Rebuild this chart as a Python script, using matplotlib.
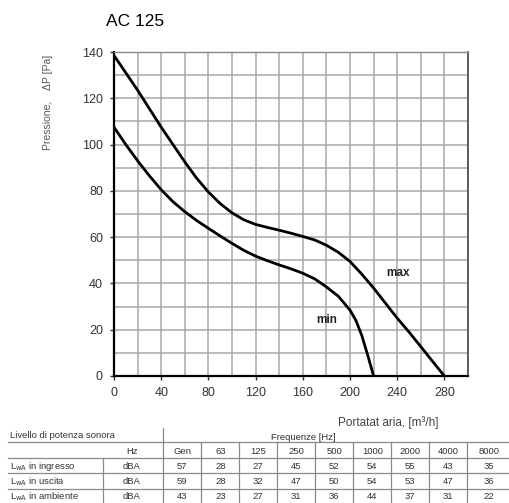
import matplotlib
matplotlib.use("Agg")
import matplotlib.pyplot as plt
from matplotlib.lines import Line2D
import numpy as np

plt.rcParams['font.family'] = ['Liberation Sans', 'DejaVu Sans']

# ---- data ----
flow_max = [0, 10, 20, 30, 40, 50, 60, 70, 80, 90, 100, 110, 120, 130, 140, 150,
            160, 170, 180, 190, 200, 210, 220, 230, 240, 250, 260, 270, 280]
p_max = [138.5, 131, 123.5, 115.5, 107.5, 100, 92.5, 85.5, 79.5, 74.5, 70.5, 67.5,
         65.5, 64.2, 63, 61.7, 60.3, 58.8, 56.5, 53.5, 49.5, 44, 38, 31.5, 25, 19,
         12.7, 6.3, 0]
flow_min = [0, 10, 20, 30, 40, 50, 60, 70, 80, 90, 100, 110, 120, 130, 140, 150,
            160, 170, 180, 190, 200, 205, 210, 215, 220]
p_min = [107.5, 100, 93, 86.5, 80.5, 75.3, 71, 67.2, 63.8, 60.5, 57.3, 54.3, 51.8,
         49.8, 48, 46.3, 44.4, 42, 38.5, 34.5, 28.5, 24, 17.5, 9, 0]

x_ticks = [0, 40, 80, 120, 160, 200, 240, 280]
y_ticks = [0, 20, 40, 60, 80, 100, 120, 140]

freq_labels = ["Gen", "63", "125", "250", "500", "1000", "2000", "4000", "8000"]
row_labels = [r"L$_{\mathrm{wA}}$ in ingresso", r"L$_{\mathrm{wA}}$ in uscita",
              r"L$_{\mathrm{wA}}$ in ambiente"]
row_units = ["dBA", "dBA", "dBA"]
lw_in = [57, 28, 27, 45, 52, 54, 55, 43, 35]
lw_out = [59, 28, 32, 47, 50, 54, 53, 47, 36]
lw_amb = [43, 23, 27, 31, 36, 44, 37, 31, 22]

W, H = 510, 503
fig = plt.figure(figsize=(W / 100, H / 100), dpi=100)


def fx(px):
    return px / W


def fy(py):
    return 1 - py / H


ax = fig.add_axes([fx(114), fy(376), 354 / W, 324 / H])
ax.plot(flow_max, p_max, color='black', lw=2.0, solid_joinstyle='round', zorder=3)
ax.plot(flow_min, p_min, color='black', lw=2.0, solid_joinstyle='round', zorder=3)
ax.set_xlim(0, 300)
ax.set_ylim(0, 140)
ax.set_xticks(x_ticks)
ax.set_yticks(y_ticks)
ax.set_xticks(np.arange(0, 301, 20), minor=True)
ax.set_yticks(np.arange(0, 141, 10), minor=True)
ax.grid(True, which='both', color='#a8a8a8', lw=1.1)
ax.set_axisbelow(True)
ax.tick_params(which='major', length=3, width=1, color='#333333',
               labelsize=9, labelcolor='#333333', pad=5)
ax.tick_params(which='minor', length=0)
for s in ['left', 'bottom']:
    ax.spines[s].set_linewidth(1.6)
    ax.spines[s].set_color('black')
ax.spines['top'].set_color('#888888')
ax.spines['top'].set_linewidth(1.0)
ax.spines['right'].set_color('#444444')
ax.spines['right'].set_linewidth(1.2)

ax.text(240.5, 44.4, "max", fontsize=8.5, fontweight='bold', ha='center',
        va='center', color='#222222')
ax.text(180.5, 24.2, "min", fontsize=8.5, fontweight='bold', ha='center',
        va='center', color='#222222')

fig.text(fx(135), fy(21), "AC 125", fontsize=12.5, ha='center', va='center')
fig.text(fx(48), fy(102), "Pressione,    \u0394P [Pa]", fontsize=7.5,
         rotation=90, ha='center', va='center', color='#555555')
fig.text(fx(388), fy(423), "Portatat aria, [m\u00b3/h]", fontsize=8.5,
         ha='center', va='center', color='#444444')

# ---- table ----
tc = '#333333'
lc = '#8a8a8a'
col_edges = [163.3 + 38 * i for i in range(10)]
col_edges[-1] = 510
row_y = [435, 451, 466.5, 481.5, 496.5]
hlines = [442.3, 458.3, 473.3, 489]
fs = 6.8

fig.text(fx(10), fy(row_y[0]), "Livello di potenza sonora", fontsize=fs,
         ha='left', va='center', color=tc)
fig.text(fx(303), fy(row_y[0] + 2), "Frequenze [Hz]", fontsize=fs,
         ha='center', va='center', color=tc)
fig.text(fx(132), fy(row_y[1]), "Hz", fontsize=fs, ha='center', va='center', color=tc)
for i, lab in enumerate(freq_labels):
    cx = (col_edges[i] + col_edges[i + 1]) / 2
    fig.text(fx(cx), fy(row_y[1]), lab, fontsize=fs, ha='center', va='center', color=tc)

for r, (lab, unit, vals) in enumerate(zip(row_labels, row_units, [lw_in, lw_out, lw_amb])):
    yy = row_y[2 + r]
    fig.text(fx(10), fy(yy), lab, fontsize=fs, ha='left', va='center', color=tc)
    fig.text(fx(132), fy(yy), unit, fontsize=fs, ha='center', va='center', color=tc)
    for i, v in enumerate(vals):
        cx = (col_edges[i] + col_edges[i + 1]) / 2
        fig.text(fx(cx), fy(yy), str(v), fontsize=fs, ha='center', va='center', color=tc)

for hy in hlines:
    fig.add_artist(Line2D([fx(8), fx(510)], [fy(hy), fy(hy)], color=lc, lw=0.9))
fig.add_artist(Line2D([fx(163.3), fx(163.3)], [fy(428), fy(503)], color=lc, lw=0.9))
fig.add_artist(Line2D([fx(103.3), fx(103.3)], [fy(458.3), fy(503)], color=lc, lw=0.9))
for e in col_edges[1:-1]:
    fig.add_artist(Line2D([fx(e), fx(e)], [fy(442.3), fy(503)], color=lc, lw=0.9))

fig.savefig("out.png", dpi=100)
